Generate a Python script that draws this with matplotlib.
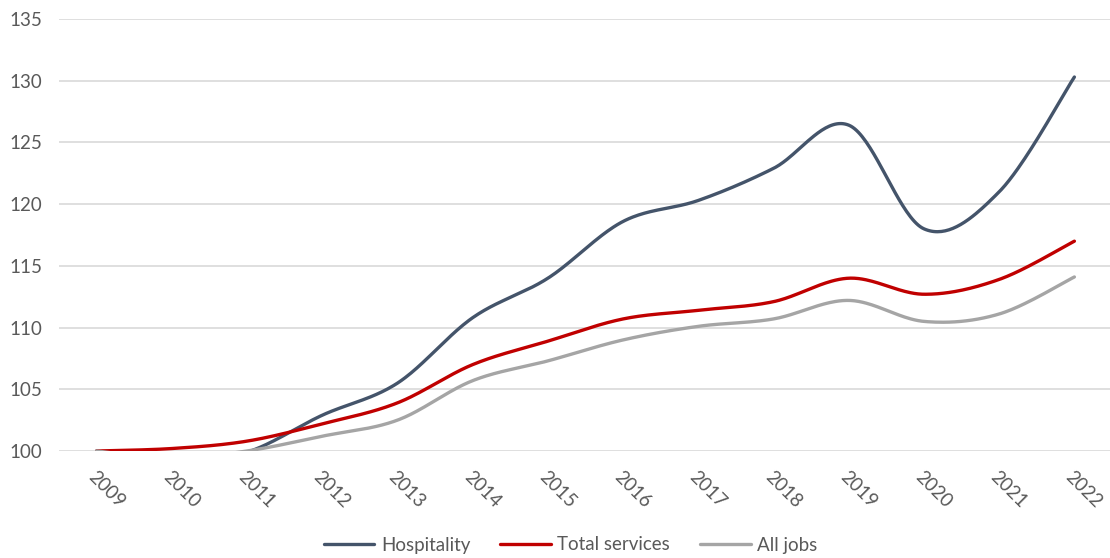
import matplotlib
matplotlib.use("Agg")
import matplotlib.pyplot as plt
import numpy as np

plt.rcParams['font.family'] = ['Lato', 'DejaVu Sans']

# data (index, 2009 = 100)
years = [2009, 2010, 2011, 2012, 2013, 2014, 2015, 2016, 2017, 2018, 2019, 2020, 2021, 2022]
hospitality = [100.0, 99.0, 99.9, 102.9, 105.5, 110.8, 114.0, 118.6, 120.3, 122.9, 126.4, 118.0, 121.0, 130.3]
total_services = [100.0, 100.2, 100.8, 102.2, 103.9, 107.0, 108.9, 110.7, 111.4, 112.1, 114.0, 112.7, 113.9, 117.0]
all_jobs = [100.0, 99.4, 100.0, 101.2, 102.5, 105.7, 107.3, 109.0, 110.1, 110.7, 112.2, 110.5, 111.1, 114.1]


# smooth curve through the points, like Excel's "smoothed line"
def smooth(y, n=40):
    y = np.asarray(y, dtype=float)
    x = np.arange(len(y), dtype=float)
    xp = np.concatenate([[x[0]], x, [x[-1]]])
    yp = np.concatenate([[y[0]], y, [y[-1]]])
    xs, ys = [], []
    t = np.linspace(0, 1, n)
    for i in range(len(y) - 1):
        p0 = np.array([xp[i + 1], yp[i + 1]])
        p3 = np.array([xp[i + 2], yp[i + 2]])
        c1 = p0 + (np.array([xp[i + 2], yp[i + 2]]) - np.array([xp[i], yp[i]])) / 6
        c2 = p3 - (np.array([xp[i + 3], yp[i + 3]]) - np.array([xp[i + 1], yp[i + 1]])) / 6
        b = ((1 - t) ** 3)[:, None] * p0 + (3 * (1 - t) ** 2 * t)[:, None] * c1 \
            + (3 * (1 - t) * t ** 2)[:, None] * c2 + (t ** 3)[:, None] * p3
        xs.extend(b[:, 0])
        ys.extend(b[:, 1])
    return np.array(xs), np.array(ys)


fig = plt.figure(figsize=(11.1, 5.58), dpi=100)
ax = fig.add_axes([59 / 1110, 107 / 558, 1053 / 1110, 432 / 558])

series = [
    ("Hospitality", hospitality, "#44546A"),
    ("Total services", total_services, "#C00000"),
    ("All jobs", all_jobs, "#A5A5A5"),
]
for name, vals, col in series:
    sx, sy = smooth(vals)
    ax.plot(sx, sy, color=col, lw=2.4, label=name, solid_capstyle='round', zorder=3)

ax.set_xlim(-0.5, len(years) - 0.5)
ax.set_ylim(100, 135)
ax.set_yticks(np.arange(100, 136, 5))
ax.set_xticks(range(len(years)))
ax.set_xticklabels([str(y) for y in years], rotation=-45, ha='left', va='top',
                   rotation_mode='anchor')
ax.tick_params(axis='both', length=0, labelsize=13.5, colors='#595959')
ax.tick_params(axis='y', pad=12)
ax.tick_params(axis='x', pad=12)
ax.grid(axis='y', color='#D9D9D9', lw=1.2)
ax.set_axisbelow(True)
for s in ax.spines.values():
    s.set_visible(False)

fig.legend(loc='center', bbox_to_anchor=(0.514, 1 - 545 / 558), ncol=3, frameon=False,
           fontsize=13.5, labelcolor='#595959', handlelength=2.7, columnspacing=1.6,
           handletextpad=0.35)

fig.savefig("out.png", dpi=100)
